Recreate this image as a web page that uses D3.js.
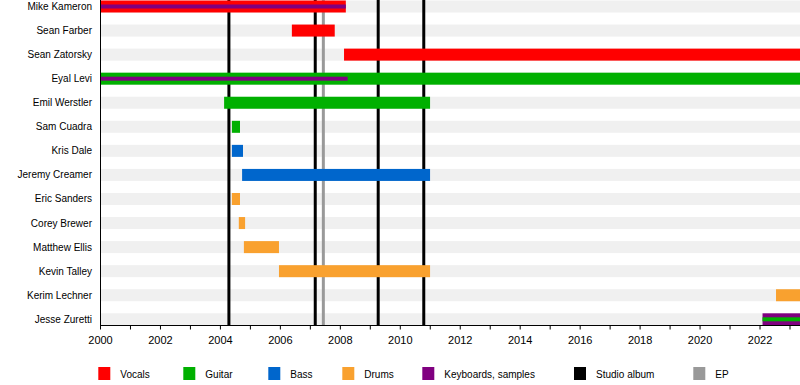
<!DOCTYPE html>
<html>
<head>
<meta charset="utf-8">
<script src="https://cdn.jsdelivr.net/npm/d3@7"></script>
<style>
  body { margin: 0; background: #fff; }
  text { font-family: "Liberation Sans", Arial, sans-serif; fill: #000; }
</style>
</head>
<body>
<div id="chart"></div>
<script>
var w = 800;
var h = 385;
var endYear = 2023.35;

// band members, top to bottom
var members = ["Mike Kameron", "Sean Farber", "Sean Zatorsky", "Eyal Levi", "Emil Werstler",
  "Sam Cuadra", "Kris Dale", "Jeremy Creamer", "Eric Sanders", "Corey Brewer",
  "Matthew Ellis", "Kevin Talley", "Kerim Lechner", "Jesse Zuretti"];

var roles = ["Vocals", "Guitar", "Bass", "Drums", "Keyboards, samples"];
var roleColors = ["#ff0000", "#00b000", "#0066cc", "#f9a12f", "#800080"];

// main bars
var spans = [
  ["Mike Kameron", "Vocals", 2000, 2008.2],
  ["Sean Farber", "Vocals", 2006.4, 2007.83],
  ["Sean Zatorsky", "Vocals", 2008.14, endYear],
  ["Eyal Levi", "Guitar", 2000, endYear],
  ["Emil Werstler", "Guitar", 2004.14, 2011.01],
  ["Sam Cuadra", "Guitar", 2004.4, 2004.67],
  ["Kris Dale", "Bass", 2004.4, 2004.77],
  ["Jeremy Creamer", "Bass", 2004.74, 2011.01],
  ["Eric Sanders", "Drums", 2004.4, 2004.67],
  ["Corey Brewer", "Drums", 2004.63, 2004.84],
  ["Matthew Ellis", "Drums", 2004.8, 2005.97],
  ["Kevin Talley", "Drums", 2005.97, 2011.01],
  ["Kerim Lechner", "Drums", 2022.55, endYear],
  ["Jesse Zuretti", "Keyboards, samples", 2022.1, endYear]
];

// thin secondary bars
var extras = [
  ["Mike Kameron", "Keyboards, samples", 2000, 2008.2],
  ["Eyal Levi", "Keyboards, samples", 2000, 2008.26],
  ["Jesse Zuretti", "Guitar", 2022.1, endYear]
];

var studioAlbums = [2004.3, 2007.18, 2009.28, 2010.8];
var eps = [2007.45];

var legendLabels = ["Vocals", "Guitar", "Bass", "Drums", "Keyboards, samples", "Studio album", "EP"];
var legendColors = roleColors.concat(["#000000", "#999999"]);

var left = 100, right = 800, axisY = 325.5;

var x = d3.scaleLinear().domain([2000, endYear]).range([left, right]);
var y = d3.scalePoint().domain(members).range([6.5, 319.3]);
var color = d3.scaleOrdinal().domain(roles).range(roleColors);

var svg = d3.select("#chart").append("svg")
  .attr("width", w)
  .attr("height", h);

// row stripes
svg.append("g").selectAll("rect")
  .data(members)
  .enter().append("rect")
  .attr("x", left)
  .attr("width", right - left)
  .attr("y", function(d) { return y(d) - 6; })
  .attr("height", 12)
  .attr("fill", "#f0f0f0");

// album lines
svg.append("g").selectAll("line")
  .data(studioAlbums)
  .enter().append("line")
  .attr("x1", function(d) { return x(d); })
  .attr("x2", function(d) { return x(d); })
  .attr("y1", 0)
  .attr("y2", axisY)
  .attr("stroke", "#000")
  .attr("stroke-width", 3);

svg.append("g").selectAll("line")
  .data(eps)
  .enter().append("line")
  .attr("x1", function(d) { return x(d); })
  .attr("x2", function(d) { return x(d); })
  .attr("y1", 0)
  .attr("y2", axisY)
  .attr("stroke", "#999")
  .attr("stroke-width", 3);

// main bars
svg.append("g").selectAll("rect")
  .data(spans)
  .enter().append("rect")
  .attr("x", function(d) { return x(d[2]); })
  .attr("width", function(d) { return x(d[3]) - x(d[2]); })
  .attr("y", function(d) { return y(d[0]) - 6; })
  .attr("height", 12)
  .attr("fill", function(d) { return color(d[1]); });

// secondary bars
svg.append("g").selectAll("rect")
  .data(extras)
  .enter().append("rect")
  .attr("x", function(d) { return x(d[2]); })
  .attr("width", function(d) { return x(d[3]) - x(d[2]); })
  .attr("y", function(d) { return y(d[0]) - 2; })
  .attr("height", 4)
  .attr("fill", function(d) { return color(d[1]); });

// member names
svg.append("g").selectAll("text")
  .data(members)
  .enter().append("text")
  .attr("x", 92)
  .attr("y", function(d) { return y(d) + 3.5; })
  .attr("text-anchor", "end")
  .style("font-size", "10px")
  .text(function(d) { return d; });

// axes
var xAxis = d3.axisBottom(x)
  .tickValues(d3.range(2000, 2024, 1))
  .tickSize(4)
  .tickPadding(7)
  .tickFormat(function(d) { return d % 2 === 0 ? d : ""; });

var gx = svg.append("g")
  .attr("transform", "translate(0," + axisY + ")")
  .call(xAxis);
gx.select(".domain").attr("d", "M" + left + ",0H" + right);
gx.selectAll("text").style("font-size", "11px").style("font-family", "Liberation Sans, Arial, sans-serif");

svg.append("line")
  .attr("x1", left + 0.5).attr("x2", left + 0.5)
  .attr("y1", 0).attr("y2", axisY)
  .attr("stroke", "#000");

// legend
var legendX = [98.3, 183.3, 268.3, 342.3, 422.3, 574, 693.3];
var legend = svg.append("g").selectAll("g")
  .data(legendLabels)
  .enter().append("g")
  .attr("transform", function(d, i) { return "translate(" + legendX[i] + ",367)"; });

legend.append("rect")
  .attr("width", 12)
  .attr("height", 13)
  .attr("fill", function(d, i) { return legendColors[i]; });

legend.append("text")
  .attr("x", 22)
  .attr("y", 10.5)
  .style("font-size", "10px")
  .text(function(d) { return d; });
</script>
</body>
</html>
